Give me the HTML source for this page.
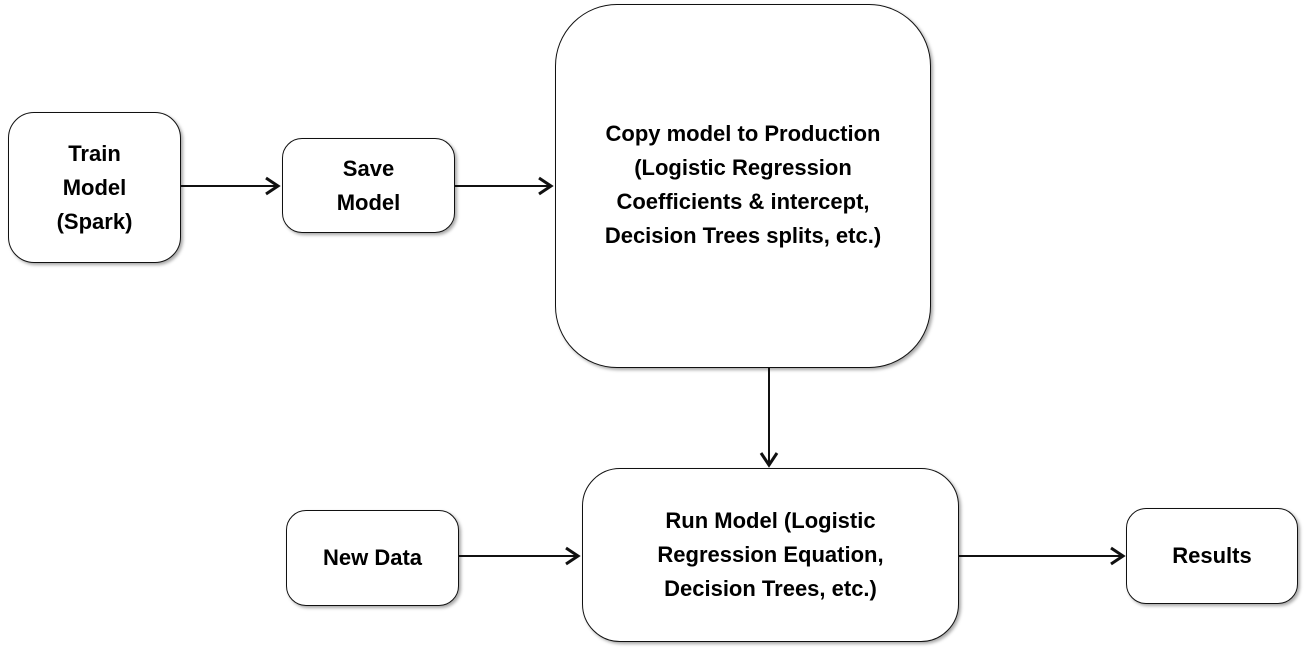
<!DOCTYPE html>
<html><head><style>
body{margin:0;width:1307px;height:653px;background:#fff;position:relative;overflow:hidden;font-family:"Liberation Sans",sans-serif;}
.b{position:absolute;box-sizing:border-box;border:1.6px solid #111;background:#fff;display:flex;align-items:center;justify-content:center;text-align:center;font-weight:bold;font-size:22px;line-height:34px;color:#000;box-shadow:2px 2px 3px rgba(0,0,0,.35);}
svg{position:absolute;left:0;top:0}
</style></head><body>
<div class="b" style="left:8px;top:112px;width:173px;height:151px;border-radius:26px">Train<br>Model<br>(Spark)</div>
<div class="b" style="left:282px;top:138px;width:173px;height:95px;border-radius:20px">Save<br>Model</div>
<div class="b" style="left:555px;top:4px;width:376px;height:364px;border-radius:62px;padding-bottom:2px">Copy model to Production<br>(Logistic Regression<br>Coefficients &amp; intercept,<br>Decision Trees splits, etc.)</div>
<div class="b" style="left:582px;top:468px;width:377px;height:174px;border-radius:38px">Run Model (Logistic<br>Regression Equation,<br>Decision Trees, etc.)</div>
<div class="b" style="left:286px;top:510px;width:173px;height:96px;border-radius:20px">New Data</div>
<div class="b" style="left:1126px;top:508px;width:172px;height:96px;border-radius:20px">Results</div>
<svg width="1307" height="653" fill="none" stroke="#111" stroke-width="2">
<path d="M181 186H278M455 186H551M769 368V465M459 556H578M959 556H1123"/>
<g stroke-width="3">
<path d="M266 178l12 8-12 8"/>
<path d="M539 178l12 8-12 8"/>
<path d="M761 453l8 12 8-12"/>
<path d="M566 548l12 8-12 8"/>
<path d="M1111 548l12 8-12 8"/>
</g>
</svg>
</body></html>
